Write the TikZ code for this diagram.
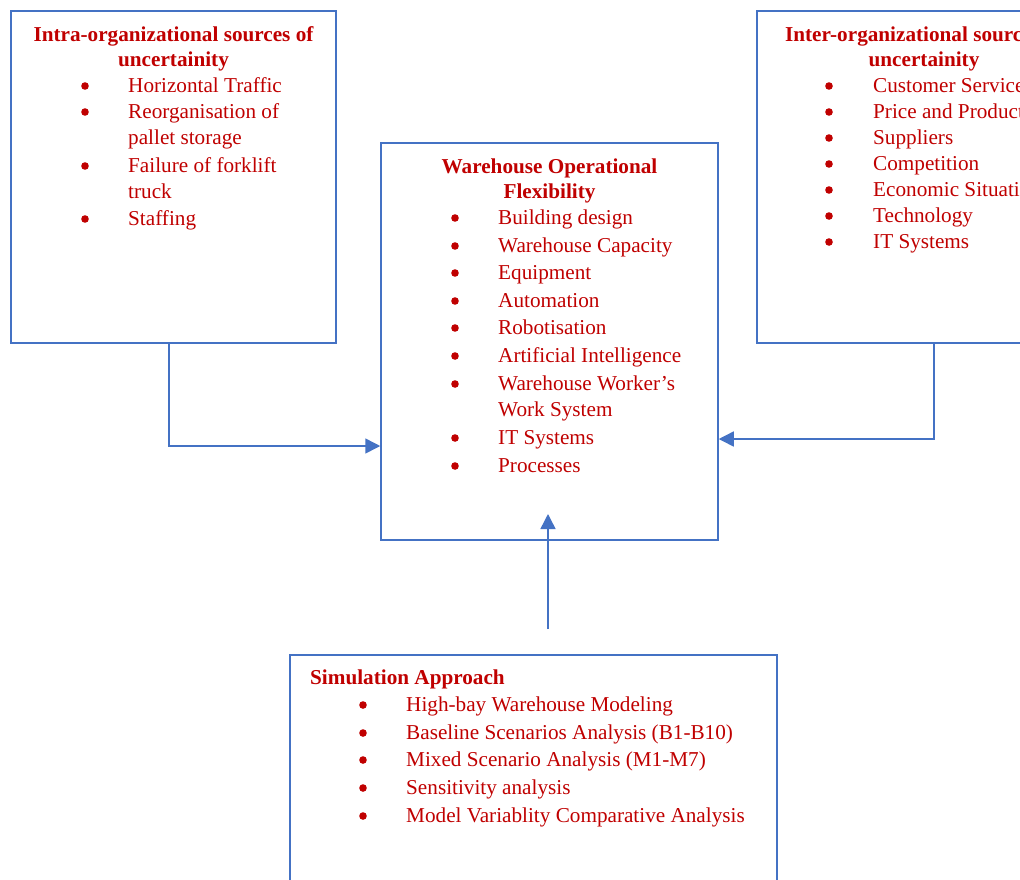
\documentclass[tikz,border=0pt]{standalone}
\usepackage{fontspec}
\setmainfont{Liberation Serif}
\usetikzlibrary{arrows.meta}
\definecolor{txtred}{HTML}{C00000}
\definecolor{lineblue}{HTML}{4472C4}
\tikzset{
  x=1pt, y=-1pt,
  box/.style={draw=lineblue, line width=1.5pt, inner sep=0pt},
  item/.style={anchor=base west, inner sep=0pt, text=txtred, font=\fontsize{21.2}{26}\selectfont},
  ttl/.style={anchor=base, inner sep=0pt, text=txtred, font=\fontsize{21.2}{26}\selectfont\bfseries},
  ttlw/.style={anchor=base west, inner sep=0pt, text=txtred, font=\fontsize{21.2}{26}\selectfont\bfseries},
  dot/.style={fill=txtred},
  arr/.style={draw=lineblue, line width=1.5pt, -{Triangle[length=15pt,width=15pt]}}
}
\begin{document}
\begin{tikzpicture}
\useasboundingbox (0,0) rectangle (1020,879);
\clip (0,0) rectangle (1020,879);
\fill[white] (0,0) rectangle (1020,879);
% boxes
\node[box, minimum width=325pt, minimum height=332pt] (intra) at (173.5,177) {};
\node[box, minimum width=337pt, minimum height=397pt] (wof) at (549.5,341.5) {};
\node[box, minimum width=334pt, minimum height=332pt] (inter) at (924,177) {};
\node[box, minimum width=487pt, minimum height=260pt] (sim) at (533.5,785) {};
% left box text
\node[ttl] (t1a) at (173.5,41) {Intra-organizational sources of};
\node[ttl] (t1b) at (173.5,66) {uncertainity};
\foreach \y/\t [count=\i] in {92/Horizontal Traffic,118/Reorganisation of,144/pallet storage,172/Failure of forklift,198/truck,225/Staffing}{
  \node[item] (l\i) at (128,\y) {\t};
}
\foreach \y in {86,112,166,219}{\fill[dot] (85,\y) circle (3.8);}
% center box text
\node[ttl] (t2a) at (549.5,173) {Warehouse Operational};
\node[ttl] (t2b) at (549.5,198) {Flexibility};
\foreach \y/\t [count=\i] in {224/Building design,252/Warehouse Capacity,279/Equipment,307/Automation,334/Robotisation,362/Artificial Intelligence,390/Warehouse Worker’s,416/Work System,444/IT Systems,472/Processes}{
  \node[item] (c\i) at (498,\y) {\t};
}
\foreach \y in {218,246,273,301,328,356,384,438,466}{\fill[dot] (455,\y) circle (3.8);}
% right box text
\node[ttl] (t3a) at (924,41) {Inter-organizational sources of};
\node[ttl] (t3b) at (924,66) {uncertainity};
\foreach \y/\t [count=\i] in {92/Customer Service,118/Price and Product,144/Suppliers,170/Competition,196/Economic Situation,222/Technology,248/IT Systems}{
  \node[item] (r\i) at (873,\y) {\t};
}
\foreach \y in {86,112,138,164,190,216,242}{\fill[dot] (829,\y) circle (3.8);}
% bottom box text
\node[ttlw] (t4) at (310,684) {Simulation Approach};
\foreach \y/\t [count=\i] in {711/High-bay Warehouse Modeling,739/Baseline Scenarios Analysis (B1-B10),766/Mixed Scenario Analysis (M1-M7),794/Sensitivity analysis,822/Model Variablity Comparative Analysis}{
  \node[item] (s\i) at (406,\y) {\t};
}
\foreach \y in {705,733,760,788,816}{\fill[dot] (363,\y) circle (3.8);}
% connectors
\draw[arr] ([xshift=-4.5pt]intra.south) |- ([yshift=-104.5pt]wof.west);
\draw[arr] ([xshift=10pt]inter.south) |- ([yshift=-97.5pt]wof.east);
\coordinate (simtop) at (548,629);
\coordinate (woftip) at (548,514);
\draw[arr] (simtop) -- (woftip);
\end{tikzpicture}
\end{document}
